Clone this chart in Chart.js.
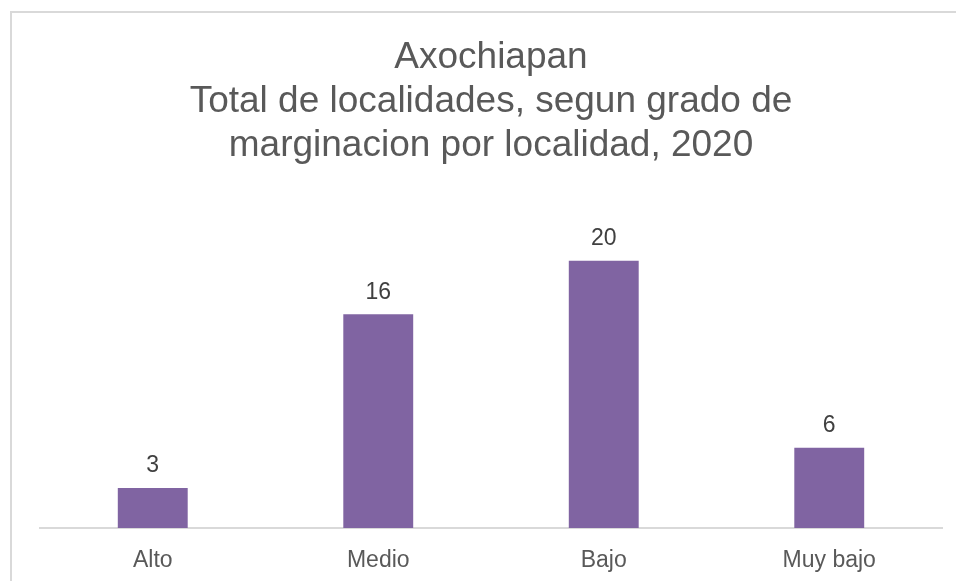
<!DOCTYPE html>
<html>
<head>
<meta charset="utf-8">
<script src="https://cdn.jsdelivr.net/npm/chart.js@4.4.1/dist/chart.umd.min.js"></script>
<style>
  html, body { margin: 0; padding: 0; background: #fff; overflow: hidden; }
  #frame { position: absolute; left: 10px; top: 11px; width: 1000px; height: 700px; border: 2px solid #d9d9d9; }
  #wrap { position: absolute; left: 0; top: 0; width: 956px; height: 581px; }
</style>
</head>
<body>
<div id="frame"></div>
<div id="wrap"><canvas id="chart" width="956" height="581"></canvas></div>
<script>
// datos
const categorias = ['Alto', 'Medio', 'Bajo', 'Muy bajo'];
const localidades = [3, 16, 20, 6];
const titulo = ['Axochiapan', 'Total de localidades, segun grado de', 'marginacion por localidad, 2020'];

// etiquetas de valor encima de cada barra
const etiquetasPlugin = {
    id: 'etiquetas',
    afterDatasetsDraw(chart) {
        const ctx = chart.ctx;
        const meta = chart.getDatasetMeta(0);
        ctx.save();
        ctx.font = '23px "Liberation Sans", Arial, sans-serif';
        ctx.fillStyle = '#404040';
        ctx.textAlign = 'center';
        ctx.textBaseline = 'middle';
        meta.data.forEach((bar, i) => {
            ctx.fillText(String(chart.data.datasets[0].data[i]), bar.x, bar.y - 22);
        });
        ctx.restore();
    }
};

new Chart(document.getElementById('chart').getContext('2d'), {
    type: 'bar',
    data: {
        labels: categorias,
        datasets: [{
            data: localidades,
            backgroundColor: '#8064a2',
            borderWidth: 0,
            categoryPercentage: 1,
            barPercentage: 0.31
        }]
    },
    options: {
        responsive: false,
        animation: false,
        layout: { padding: { left: 40, right: 14, top: 0, bottom: 0 } },
        plugins: {
            legend: { display: false },
            tooltip: { enabled: false },
            title: {
                display: true,
                text: titulo,
                color: '#595959',
                font: { family: '"Liberation Sans", Arial, sans-serif', size: 37, weight: 'normal', lineHeight: 1.19 },
                padding: { top: 36, bottom: 26 }
            }
        },
        scales: {
            x: {
                grid: { display: false, drawTicks: false },
                border: { color: '#d9d9d9', width: 2 },
                ticks: {
                    color: '#595959',
                    padding: 19,
                    font: { family: '"Liberation Sans", Arial, sans-serif', size: 23 }
                },
                afterFit(scale) { scale.height = 53; }
            },
            y: { display: false, min: 0, max: 25 }
        }
    },
    plugins: [etiquetasPlugin]
});
</script>
</body>
</html>
